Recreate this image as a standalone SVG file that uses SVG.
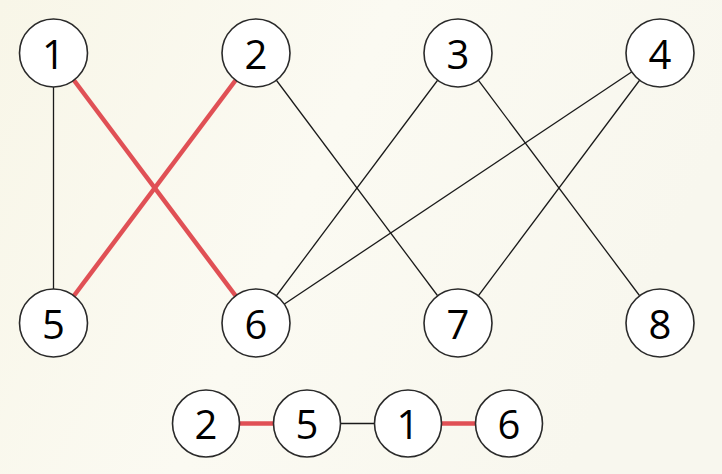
<svg xmlns="http://www.w3.org/2000/svg" width="722" height="474" viewBox="0 0 722 474">
<defs>
<linearGradient id="bg" x1="0" y1="0" x2="1" y2="0.3">
<stop offset="0" stop-color="#f8f6e8"/>
<stop offset="0.5" stop-color="#fbfaf2"/>
<stop offset="1" stop-color="#f8f7ee"/>
</linearGradient>
<style>
.n circle{fill:#fff;stroke:#2a2a2a;stroke-width:1.6}
.n text{font-family:"Open Sans","Liberation Sans",sans-serif;font-size:40px;fill:#000;text-anchor:middle;dominant-baseline:central}
.e{stroke:#1a1a1a;stroke-width:1.3;fill:none}
.r{stroke:#e05055;stroke-width:4.5;fill:none}
</style>
</defs>
<rect width="722" height="474" fill="url(#bg)"/>
<g id="connectors">
<line class="e" x1="53.5" y1="53" x2="53.5" y2="323"/>
<line class="r" x1="53.5" y1="53" x2="256" y2="323"/>
<line class="r" x1="256" y1="53" x2="53.5" y2="323"/>
<line class="e" x1="256" y1="53" x2="458" y2="323"/>
<line class="e" x1="458" y1="53" x2="256" y2="323"/>
<line class="e" x1="458" y1="53" x2="660" y2="323"/>
<line class="e" x1="660" y1="53" x2="256" y2="323"/>
<line class="e" x1="660" y1="53" x2="458" y2="323"/>
<line class="r" x1="206" y1="423.5" x2="307" y2="423.5"/>
<line class="e" x1="307" y1="423.5" x2="408" y2="423.5"/>
<line class="r" x1="408" y1="423.5" x2="509" y2="423.5"/>
</g>
<g id="n1" class="n"><circle cx="53.5" cy="53" r="34"/><text x="53.5" y="53">1</text></g>
<g id="n2" class="n"><circle cx="256" cy="53" r="34"/><text x="256" y="53">2</text></g>
<g id="n3" class="n"><circle cx="458" cy="53" r="34"/><text x="458" y="53">3</text></g>
<g id="n4" class="n"><circle cx="660" cy="53" r="34"/><text x="660" y="53">4</text></g>
<g id="n5" class="n"><circle cx="53.5" cy="323" r="34"/><text x="53.5" y="323">5</text></g>
<g id="n6" class="n"><circle cx="256" cy="323" r="34"/><text x="256" y="323">6</text></g>
<g id="n7" class="n"><circle cx="458" cy="323" r="34"/><text x="458" y="323">7</text></g>
<g id="n8" class="n"><circle cx="660" cy="323" r="34"/><text x="660" y="323">8</text></g>
<g id="p2" class="n"><circle cx="206" cy="423.5" r="33.5"/><text x="206" y="423.5">2</text></g>
<g id="p5" class="n"><circle cx="307" cy="423.5" r="33.5"/><text x="307" y="423.5">5</text></g>
<g id="p1" class="n"><circle cx="408" cy="423.5" r="33.5"/><text x="408" y="423.5">1</text></g>
<g id="p6" class="n"><circle cx="509" cy="423.5" r="33.5"/><text x="509" y="423.5">6</text></g>
</svg>
